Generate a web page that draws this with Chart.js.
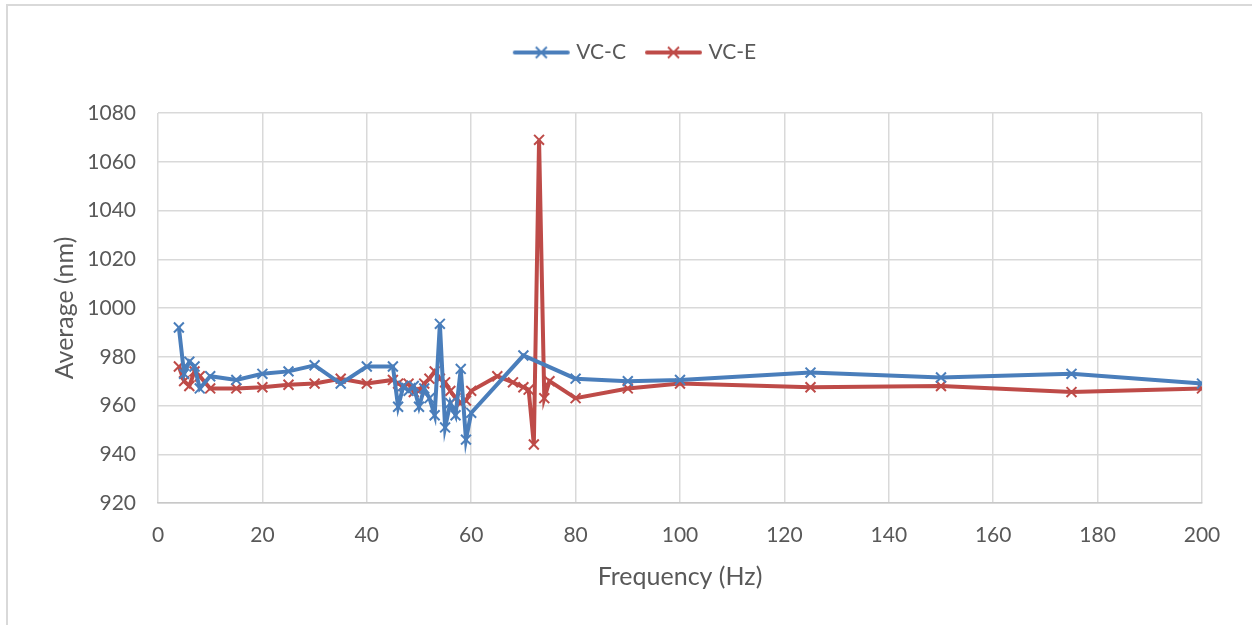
<!DOCTYPE html>
<html>
<head>
<meta charset="utf-8">
<script src="https://cdn.jsdelivr.net/npm/chart.js@4.4.1/dist/chart.umd.min.js"></script>
<style>
  html, body { margin: 0; padding: 0; background: #fff; }
  #wrap { position: relative; width: 1252px; height: 625px; overflow: hidden; }
  #frame { position: absolute; left: 6px; top: 4px; width: 1260px; height: 640px; border: 2px solid #d9d9d9; box-sizing: border-box; }
  canvas { position: absolute; left: 0; top: 0; }
</style>
</head>
<body>
<div id="wrap">
  <div id="frame"></div>
  <canvas id="c" width="1252" height="625"></canvas>
</div>
<script>
// ---- data ----
const vcCFreq   = [4,5,6,7,8,10,15,20,25,30,35,40,45,46,47,48,49,50,51,52,53,54,55,56,57,58,59,60,70,80,90,100,125,150,175,200];
const vcCValues = [992,973,978,976,967,972,970.5,973,974,976.5,969,976,976,959.5,968,966,968,959.5,967,963,956,993.5,951,961,956,975,946,957,980.5,971,970,970.5,973.5,971.5,973,969];
const vcEFreq   = [4,5,6,7,8,10,15,20,25,30,35,40,45,46,47,48,49,50,51,52,53,54,55,56,57,58,59,60,65,68,70,71,72,73,74,75,80,90,100,125,150,175,200];
const vcEValues = [976,970,968,974,972,967,967,967.5,968.5,969,971,969,970.5,969,968,969,965.5,966,969,971,974,971,969.5,966,963,961,962,966,972,969.5,967.5,966.5,944,1069,963,970,963,967,969,967.5,968,965.5,967];
const xTicks = [0,20,40,60,80,100,120,140,160,180,200];
const yTicks = [920,940,960,980,1000,1020,1040,1060,1080];
const seriesNames = ['VC-C','VC-E'];
const seriesColors = ['#4a7ebb','#be4b48'];

const FONT = 'Lato, "Open Sans", sans-serif';
const TXT = '#595959';

function toPts(xs, ys) { return xs.map((x, i) => ({ x: x, y: ys[i] })); }

function legendIcon(color) {
  const cv = document.createElement('canvas');
  cv.width = 70; cv.height = 18;
  const g = cv.getContext('2d');
  g.strokeStyle = color; g.lineWidth = 4; g.lineCap = 'round';
  g.beginPath(); g.moveTo(13, 9); g.lineTo(66, 9); g.stroke();
  g.lineWidth = 2; g.lineCap = 'butt';
  g.beginPath(); g.moveTo(34, 3.5); g.lineTo(45, 14.5); g.moveTo(45, 3.5); g.lineTo(34, 14.5); g.stroke();
  return cv;
}

const datasets = [
  { label: seriesNames[0], data: toPts(vcCFreq, vcCValues) },
  { label: seriesNames[1], data: toPts(vcEFreq, vcEValues) }
].map((d, i) => Object.assign(d, {
  borderColor: seriesColors[i],
  backgroundColor: seriesColors[i],
  borderWidth: 4,
  pointStyle: 'crossRot',
  pointRadius: 7,
  pointBorderWidth: 2,
  pointBorderColor: seriesColors[i],
  tension: 0,
  fill: false
}));

const legendTweak = {
  id: 'legendTweak',
  beforeInit(chart) {
    const lg = chart.legend;
    const origFit = lg.fit;
    lg.fit = function () { origFit.call(this); this.height += 40; };
    const origDraw = lg.draw;
    lg.draw = function () {
      const ctx = this.ctx;
      ctx.save(); ctx.translate(6, 0);
      origDraw.apply(this, arguments);
      ctx.restore();
    };
  }
};

new Chart(document.getElementById('c'), {
  type: 'line',
  data: { datasets: datasets },
  plugins: [legendTweak],
  options: {
    responsive: false,
    animation: false,
    devicePixelRatio: 1,
    layout: { padding: { left: 50, right: 50, top: 28, bottom: 32 } },
    plugins: {
      tooltip: { enabled: false },
      legend: {
        position: 'top',
        labels: {
          usePointStyle: true,
          pointStyleWidth: 58,
          boxHeight: 18,
          padding: 14,
          color: TXT,
          font: { family: FONT, size: 21 },
          generateLabels: (chart) => chart.data.datasets.map((d, i) => ({
            text: d.label,
            pointStyle: legendIcon(seriesColors[i]),
            fillStyle: seriesColors[i],
            strokeStyle: seriesColors[i],
            lineWidth: 0,
            fontColor: TXT,
            datasetIndex: i,
            hidden: false
          }))
        }
      }
    },
    scales: {
      x: {
        type: 'linear',
        min: 0, max: 200,
        afterBuildTicks: (s) => { s.ticks = xTicks.map(v => ({ value: v })); },
        afterFit: (s) => { s.height = 90; },
        grid: { color: '#d9d9d9', lineWidth: 1.5, drawTicks: false },
        border: { display: true, color: '#c8c8c8', width: 1.5 },
        ticks: { color: TXT, font: { family: FONT, size: 21 }, padding: 20, maxRotation: 0, callback: (v) => String(v) },
        title: { display: true, text: 'Frequency (Hz)', color: TXT, font: { family: FONT, size: 25 }, padding: { top: 1, bottom: 1 } }
      },
      y: {
        type: 'linear',
        min: 920, max: 1080,
        afterBuildTicks: (s) => { s.ticks = yTicks.map(v => ({ value: v })); },
        afterFit: (s) => { s.width = 108; },
        grid: { color: '#d9d9d9', lineWidth: 1.5, drawTicks: false },
        border: { display: false },
        ticks: { color: TXT, font: { family: FONT, size: 21 }, padding: 22, callback: (v) => String(v) },
        title: { display: true, text: 'Average (nm)', color: TXT, font: { family: FONT, size: 25 }, padding: { top: 0, bottom: 0 } }
      }
    }
  }
});
</script>
</body>
</html>
